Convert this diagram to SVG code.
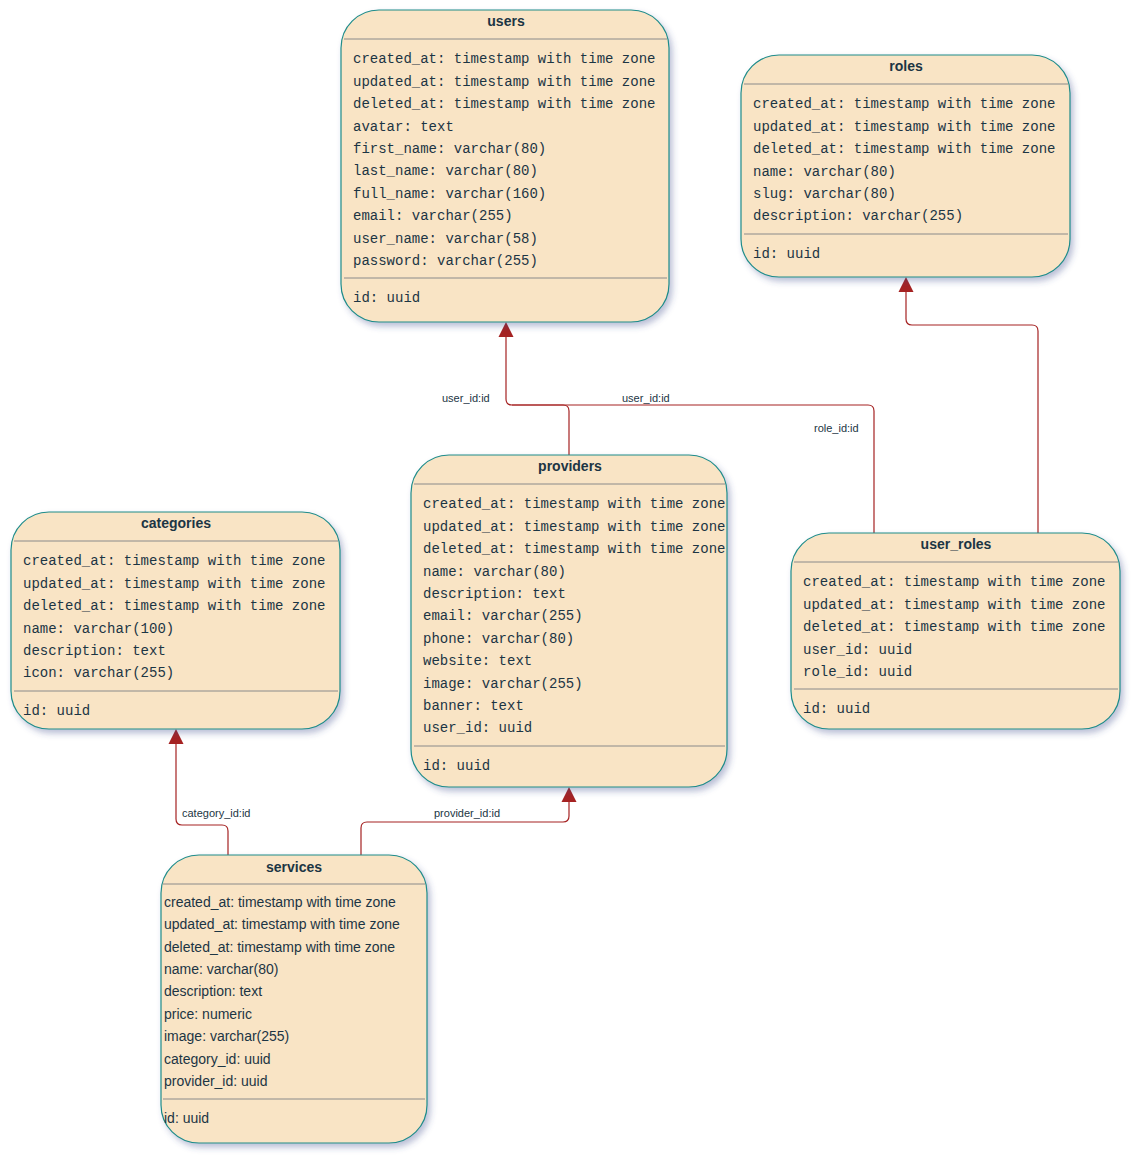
<svg xmlns="http://www.w3.org/2000/svg" width="1137" height="1160" viewBox="0 0 1137 1160">
<defs>
<style>
.box{fill:#f9e4c5;stroke:#1f8c8a;stroke-width:1.2;filter:url(#sh)}
.sep{stroke:#8a8a8a;stroke-width:1}
.title{font-family:"Liberation Sans",Arial,sans-serif;font-weight:bold;font-size:14px;fill:#1c3544;text-anchor:middle}
.f{font-family:"Liberation Mono","Courier New",monospace;font-size:14px;fill:#1c3544}
.fs{font-family:"Liberation Sans",Arial,sans-serif;font-size:14px;fill:#1c3544}
.lbl{font-family:"Liberation Sans",Arial,sans-serif;font-size:11px;fill:#1c3544}
.c{fill:none;stroke:#a52222;stroke-width:1.2}
</style>
<filter id="sh" x="-10%" y="-10%" width="125%" height="125%">
<feDropShadow dx="3" dy="4" stdDeviation="3" flood-color="#3a4a8a" flood-opacity="0.35"/>
</filter>
</defs>

<g id="connectors">
<path class="c" d="M569,455 V411 Q569,405 563,405 H512 Q506,405 506,399 V336"/>
<path class="c" d="M874,533 V411 Q874,405 868,405 H512"/>
<path class="c" d="M1038,533 V331 Q1038,325 1032,325 H912 Q906,325 906,319 V291"/>
<path class="c" d="M228,855 V831 Q228,825 222,825 H182 Q176,825 176,819 V743"/>
<path class="c" d="M361,855 V828 Q361,822 367,822 H563 Q569,822 569,816 V801"/>
<path d="M498.5,337 L506,322 L513.5,337 Z" fill="#a52222"/>
<path d="M898.5,292 L906,277 L913.5,292 Z" fill="#a52222"/>
<path d="M168.5,744 L176,729 L183.5,744 Z" fill="#a52222"/>
<path d="M561.5,802 L569,787 L576.5,802 Z" fill="#a52222"/>
<text class="lbl" x="442" y="402">user_id:id</text>
<text class="lbl" x="622" y="402">user_id:id</text>
<text class="lbl" x="814" y="432">role_id:id</text>
<text class="lbl" x="182" y="817">category_id:id</text>
<text class="lbl" x="434" y="817">provider_id:id</text>
</g>

<g id="users">
<rect class="box" x="341" y="10" width="328" height="312" rx="38"/>
<text class="title" x="506" y="26">users</text>
<line class="sep" x1="344" y1="39" x2="667" y2="39"/>
<text class="f" x="353" y="63">created_at: timestamp with time zone</text>
<text class="f" x="353" y="86">updated_at: timestamp with time zone</text>
<text class="f" x="353" y="108">deleted_at: timestamp with time zone</text>
<text class="f" x="353" y="131">avatar: text</text>
<text class="f" x="353" y="153">first_name: varchar(80)</text>
<text class="f" x="353" y="175">last_name: varchar(80)</text>
<text class="f" x="353" y="198">full_name: varchar(160)</text>
<text class="f" x="353" y="220">email: varchar(255)</text>
<text class="f" x="353" y="243">user_name: varchar(58)</text>
<text class="f" x="353" y="265">password: varchar(255)</text>
<line class="sep" x1="344" y1="278" x2="667" y2="278"/>
<text class="f" x="353" y="302">id: uuid</text>
</g>

<g id="roles">
<rect class="box" x="741" y="55" width="329" height="222" rx="38"/>
<text class="title" x="906" y="71">roles</text>
<line class="sep" x1="744" y1="84" x2="1068" y2="84"/>
<text class="f" x="753" y="108">created_at: timestamp with time zone</text>
<text class="f" x="753" y="131">updated_at: timestamp with time zone</text>
<text class="f" x="753" y="153">deleted_at: timestamp with time zone</text>
<text class="f" x="753" y="176">name: varchar(80)</text>
<text class="f" x="753" y="198">slug: varchar(80)</text>
<text class="f" x="753" y="220">description: varchar(255)</text>
<line class="sep" x1="744" y1="234" x2="1068" y2="234"/>
<text class="f" x="753" y="258">id: uuid</text>
</g>

<g id="categories">
<rect class="box" x="11" y="512" width="329" height="217" rx="38"/>
<text class="title" x="176" y="528">categories</text>
<line class="sep" x1="14" y1="541" x2="338" y2="541"/>
<text class="f" x="23" y="565">created_at: timestamp with time zone</text>
<text class="f" x="23" y="588">updated_at: timestamp with time zone</text>
<text class="f" x="23" y="610">deleted_at: timestamp with time zone</text>
<text class="f" x="23" y="633">name: varchar(100)</text>
<text class="f" x="23" y="655">description: text</text>
<text class="f" x="23" y="677">icon: varchar(255)</text>
<line class="sep" x1="14" y1="691" x2="338" y2="691"/>
<text class="f" x="23" y="715">id: uuid</text>
</g>

<g id="providers">
<rect class="box" x="411" y="455" width="316" height="332" rx="38"/>
<text class="title" x="570" y="471">providers</text>
<line class="sep" x1="414" y1="484" x2="725" y2="484"/>
<text class="f" x="423" y="508">created_at: timestamp with time zone</text>
<text class="f" x="423" y="531">updated_at: timestamp with time zone</text>
<text class="f" x="423" y="553">deleted_at: timestamp with time zone</text>
<text class="f" x="423" y="576">name: varchar(80)</text>
<text class="f" x="423" y="598">description: text</text>
<text class="f" x="423" y="620">email: varchar(255)</text>
<text class="f" x="423" y="643">phone: varchar(80)</text>
<text class="f" x="423" y="665">website: text</text>
<text class="f" x="423" y="688">image: varchar(255)</text>
<text class="f" x="423" y="710">banner: text</text>
<text class="f" x="423" y="732">user_id: uuid</text>
<line class="sep" x1="414" y1="746" x2="725" y2="746"/>
<text class="f" x="423" y="770">id: uuid</text>
</g>

<g id="user_roles">
<rect class="box" x="791" y="533" width="329" height="196" rx="38"/>
<text class="title" x="956" y="549">user_roles</text>
<line class="sep" x1="794" y1="562" x2="1118" y2="562"/>
<text class="f" x="803" y="586">created_at: timestamp with time zone</text>
<text class="f" x="803" y="609">updated_at: timestamp with time zone</text>
<text class="f" x="803" y="631">deleted_at: timestamp with time zone</text>
<text class="f" x="803" y="654">user_id: uuid</text>
<text class="f" x="803" y="676">role_id: uuid</text>
<line class="sep" x1="794" y1="689" x2="1118" y2="689"/>
<text class="f" x="803" y="713">id: uuid</text>
</g>

<g id="services">
<rect class="box" x="161" y="855" width="266" height="288" rx="38"/>
<text class="title" x="294" y="872">services</text>
<line class="sep" x1="163" y1="884" x2="425" y2="884"/>
<text class="fs" x="164" y="907">created_at: timestamp with time zone</text>
<text class="fs" x="164" y="929">updated_at: timestamp with time zone</text>
<text class="fs" x="164" y="952">deleted_at: timestamp with time zone</text>
<text class="fs" x="164" y="974">name: varchar(80)</text>
<text class="fs" x="164" y="996">description: text</text>
<text class="fs" x="164" y="1019">price: numeric</text>
<text class="fs" x="164" y="1041">image: varchar(255)</text>
<text class="fs" x="164" y="1064">category_id: uuid</text>
<text class="fs" x="164" y="1086">provider_id: uuid</text>
<line class="sep" x1="163" y1="1099" x2="425" y2="1099"/>
<text class="fs" x="164" y="1123">id: uuid</text>
</g>
</svg>
